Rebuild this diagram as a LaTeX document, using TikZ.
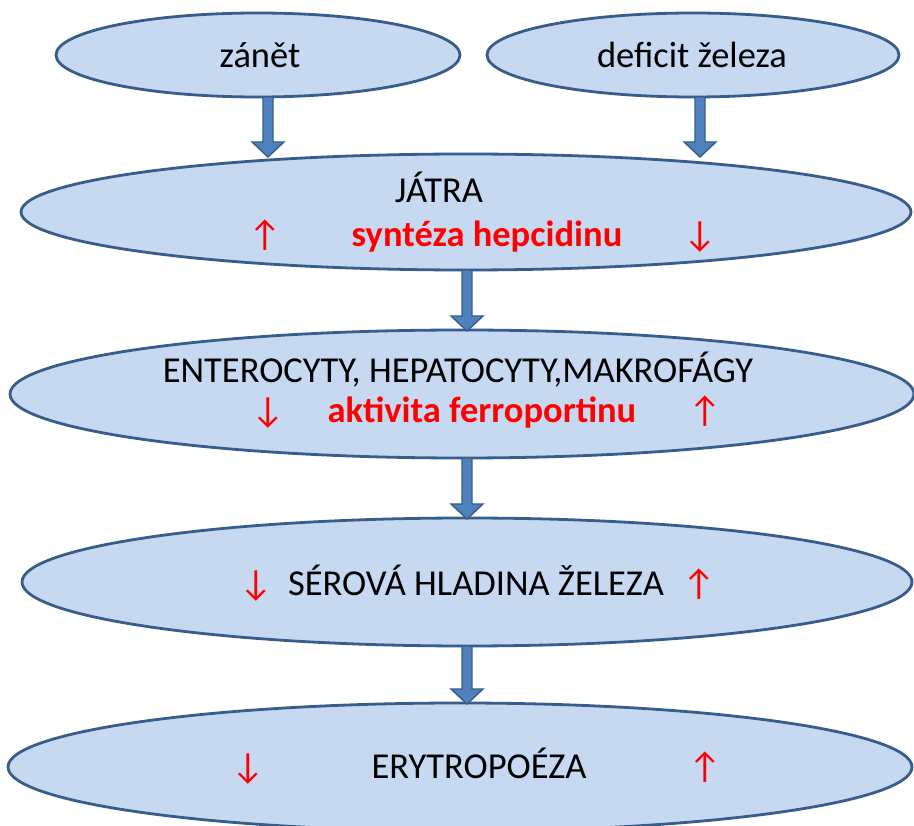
\documentclass[tikz,border=0pt]{standalone}
\usepackage{fontspec}
\setmainfont{Carlito}
\usetikzlibrary{shapes.geometric,calc}

\definecolor{ellfill}{HTML}{C6D9F1}
\definecolor{elldraw}{HTML}{385D8A}
\definecolor{arrfill}{HTML}{4F81BD}
\definecolor{upred}{HTML}{FF0000}

\tikzset{
  ell/.style={ellipse, draw=elldraw, fill=ellfill, line width=2.8pt, inner sep=0pt},
  blk/.style={fill=arrfill, draw=elldraw, line width=1.4pt, line join=miter},
  txt/.style={anchor=base, inner sep=0pt},
  red/.style={txt, text=upred},
}

% fat arrow from #1 down to #2
\newcommand{\fatarrow}[2]{%
  \path[blk] let \p1=(#1), \p2=(#2) in
    (\x1-5pt,\y1) -- (\x1-5pt,\y2+15pt) -- (\x1-16pt,\y2+15pt) -- (\x1,\y2)
    -- (\x1+16pt,\y2+15pt) -- (\x1+5pt,\y2+15pt) -- (\x1+5pt,\y1) -- cycle;}

\begin{document}
\begin{tikzpicture}[x=1pt,y=-1pt,font=\fontsize{36.5}{42}\selectfont]
\useasboundingbox (0,0) rectangle (914,826);

\node[ell, minimum width=404, minimum height=84] (z) at (258,55) {};
\node[ell, minimum width=412, minimum height=84] (d) at (693,55) {};
\node[ell, minimum width=890, minimum height=116] (j) at (466,212) {};
\node[ell, minimum width=904, minimum height=128] (e) at (462,394) {};
\node[ell, minimum width=890, minimum height=128] (s) at (467,582) {};
\node[ell, minimum width=904, minimum height=128] (r) at (460,767) {};

\coordinate (z1) at (268,97);  \coordinate (z2) at (268,157);
\coordinate (d1) at (700,97);  \coordinate (d2) at (700,157);
\coordinate (j1) at (467,270); \coordinate (j2) at (467,331);
\coordinate (e1) at (467,458); \coordinate (e2) at (467,519);
\coordinate (s1) at (467,646); \coordinate (s2) at (467,704);

\fatarrow{z1}{z2}
\fatarrow{d1}{d2}
\fatarrow{j1}{j2}
\fatarrow{e1}{e2}
\fatarrow{s1}{s2}

\node[txt] (zt) at (260,68) {zánět};
\node[txt] (dt) at (692,68) {deficit železa};

\node[txt] (jt) at (439,203) {JÁTRA};
\node[red] (ju) at (265,247) {↑};
\node[red, font=\fontsize{36.5}{42}\selectfont\bfseries] (jh) at (487,247) {syntéza hepcidinu};
\node[red] (jd) at (700,247) {↓};

\node[txt] (et) at (458,383) {ENTEROCYTY, HEPATOCYTY,MAKROFÁGY};
\node[red] (ed) at (268,423) {↓};
\node[red, font=\fontsize{36.5}{42}\selectfont\bfseries] (ef) at (482,423) {aktivita ferroportinu};
\node[red] (eu) at (705,423) {↑};

\node[red] (sd) at (256,595) {↓};
\node[txt] (st) at (476,595) {SÉROVÁ HLADINA ŽELEZA};
\node[red] (su) at (699,595) {↑};

\node[red] (rd) at (248,778) {↓};
\node[txt] (rt) at (479,778) {ERYTROPOÉZA};
\node[red] (ru) at (705,778) {↑};

\end{tikzpicture}
\end{document}
